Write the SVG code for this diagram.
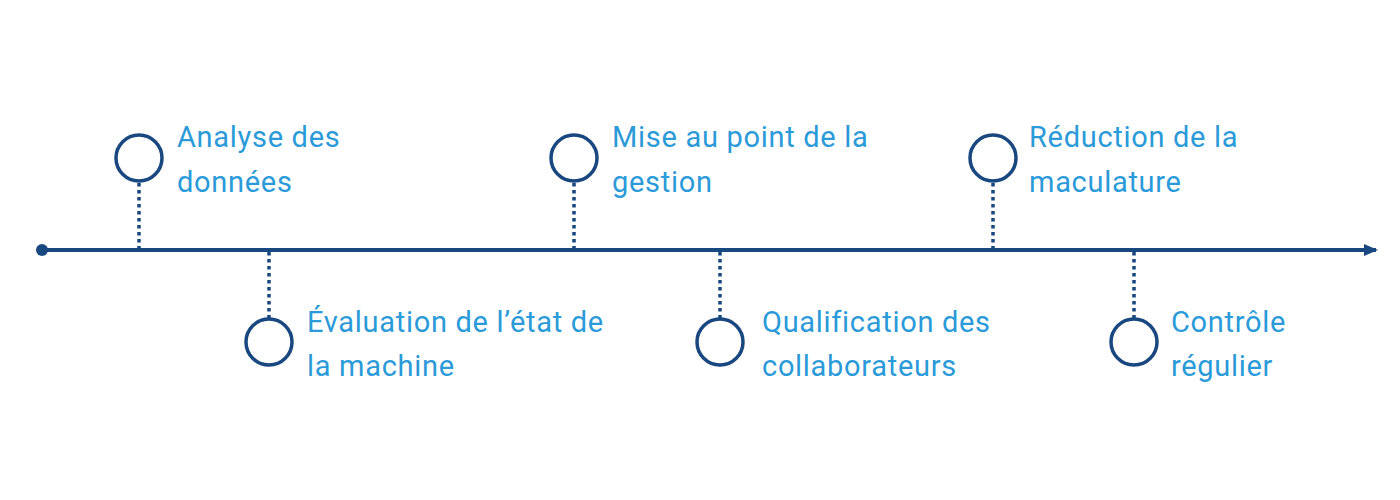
<svg xmlns="http://www.w3.org/2000/svg" width="1400" height="500" viewBox="0 0 1400 500">
<defs>
<style>
.ring{fill:#fff;stroke:#19477f;stroke-width:3.5}
.dot{stroke:#19477f;stroke-width:3.5;stroke-dasharray:3.5 3.5;fill:none}
.lbl{font-family:Roboto,"Liberation Sans",sans-serif;font-size:29px;letter-spacing:0.7px;fill:#2a9ad9}
</style>
<marker id="arr" markerWidth="14" markerHeight="12" refX="12" refY="6" orient="auto" markerUnits="userSpaceOnUse">
<path d="M0,0 L14,6 L0,12 Z" fill="#19477f"/>
</marker>
</defs>
<rect width="1400" height="500" fill="#fff"/>
<g id="connectors">
<circle cx="42" cy="250" r="6" fill="#19477f"/>
<line x1="42" y1="250" x2="1376" y2="250" stroke="#19477f" stroke-width="4" marker-end="url(#arr)"/>
<line class="dot" x1="139" y1="183" x2="139" y2="248"/>
<line class="dot" x1="574" y1="183" x2="574" y2="248"/>
<line class="dot" x1="993" y1="183" x2="993" y2="248"/>
<line class="dot" x1="269" y1="252" x2="269" y2="318"/>
<line class="dot" x1="720" y1="252" x2="720" y2="318"/>
<line class="dot" x1="1134" y1="252" x2="1134" y2="318"/>
</g>
<g id="n1"><circle class="ring" cx="139" cy="158" r="23"/><text class="lbl" x="177" y="147">Analyse des</text><text class="lbl" x="177" y="192">données</text></g>
<g id="n2"><circle class="ring" cx="269" cy="342" r="23"/><text class="lbl" x="307" y="332">Évaluation de l’état de</text><text class="lbl" x="307" y="376">la machine</text></g>
<g id="n3"><circle class="ring" cx="574" cy="158" r="23"/><text class="lbl" x="612" y="147">Mise au point de la</text><text class="lbl" x="612" y="192">gestion</text></g>
<g id="n4"><circle class="ring" cx="720" cy="342" r="23"/><text class="lbl" x="762" y="332">Qualification des</text><text class="lbl" x="762" y="376">collaborateurs</text></g>
<g id="n5"><circle class="ring" cx="993" cy="158" r="23"/><text class="lbl" x="1029" y="147">Réduction de la</text><text class="lbl" x="1029" y="192">maculature</text></g>
<g id="n6"><circle class="ring" cx="1134" cy="342" r="23"/><text class="lbl" x="1171" y="332">Contrôle</text><text class="lbl" x="1171" y="376">régulier</text></g>
</svg>
